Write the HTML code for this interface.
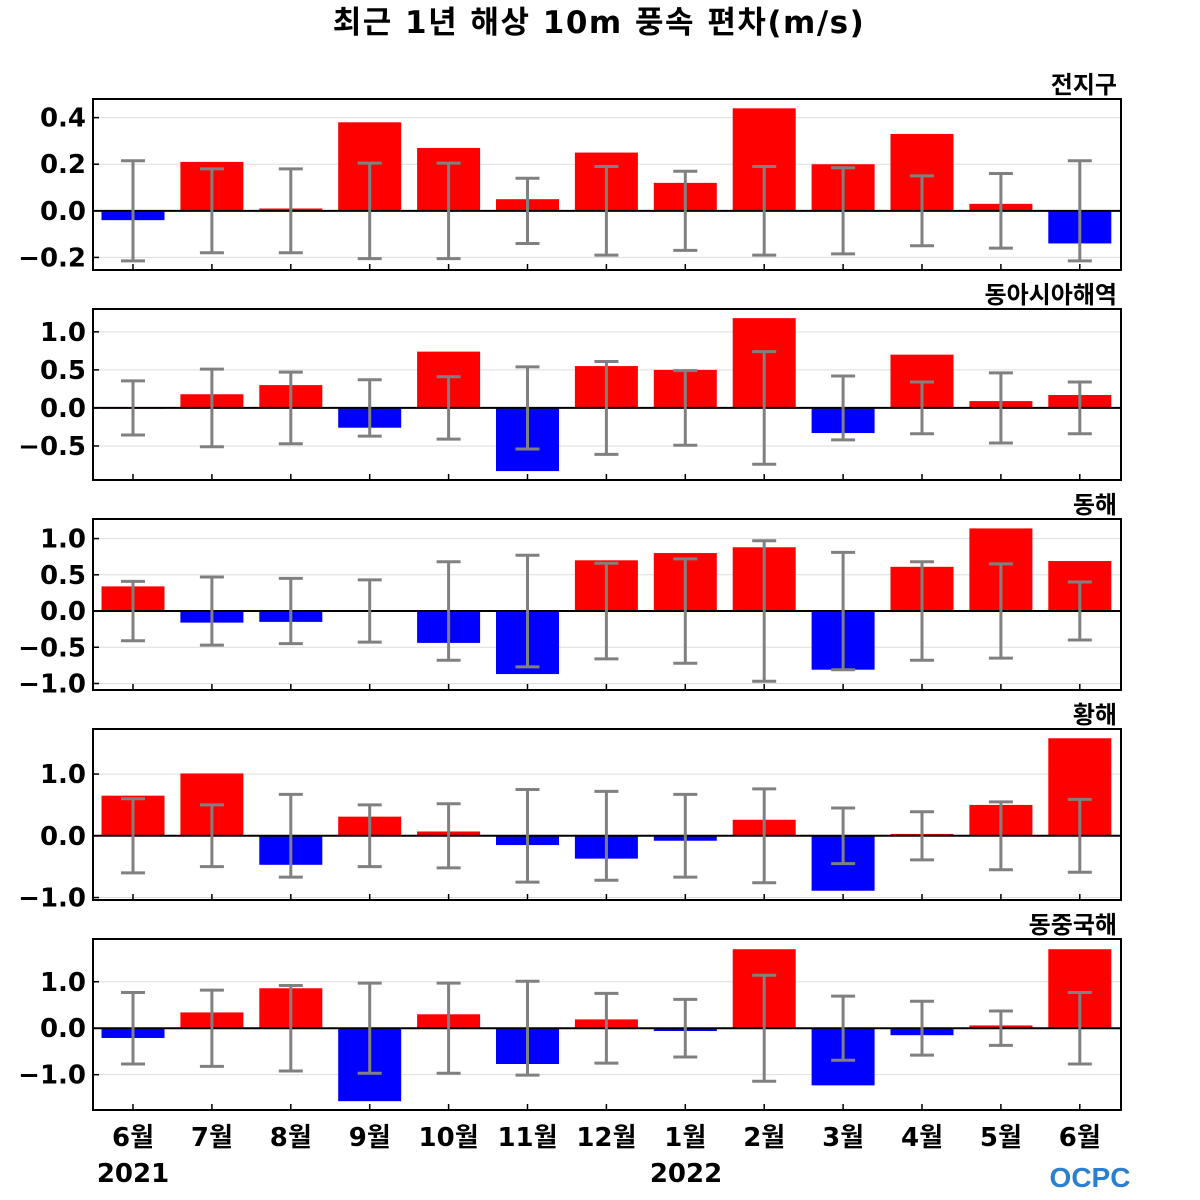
<!DOCTYPE html>
<html><head><meta charset="utf-8">
<style>
html,body{margin:0;padding:0;background:#fff;}
svg{display:block;}
text{font-family:"DejaVu Sans","Liberation Sans","Noto Sans CJK KR",sans-serif;font-weight:bold;fill:#000;}
</style></head>
<body>
<svg id="chart" width="1200" height="1200" viewBox="0 0 1200 1200">
<text x="599" y="33" font-size="31" text-anchor="middle" letter-spacing="1.5">최근 1년 해상 10m 풍속 편차(m/s)</text>
<g id="panels"></g>
<text x="1090" y="1187" font-size="28" text-anchor="middle" style="fill:#2a7fd0;font-family:'Liberation Sans',sans-serif">OCPC</text>
</svg>
<script>
const months = ["6월","7월","8월","9월","10월","11월","12월","1월","2월","3월","4월","5월","6월"];
const regions = ["전지구","동아시아해역","동해","황해","동중국해"];
const globalVals = [-0.04,0.21,0.01,0.38,0.27,0.05,0.25,0.12,0.44,0.20,0.33,0.03,-0.14];
const globalErr = [0.215,0.18,0.18,0.205,0.205,0.14,0.19,0.17,0.19,0.185,0.15,0.16,0.215];
const eastAsiaVals = [0.0,0.18,0.30,-0.26,0.74,-0.83,0.55,0.50,1.18,-0.33,0.70,0.09,0.17];
const eastAsiaErr = [0.355,0.51,0.47,0.37,0.41,0.54,0.61,0.49,0.74,0.42,0.34,0.46,0.34];
const eastSeaVals = [0.34,-0.16,-0.15,0.0,-0.44,-0.87,0.70,0.80,0.88,-0.81,0.61,1.14,0.69];
const eastSeaErr = [0.41,0.47,0.45,0.43,0.68,0.77,0.66,0.72,0.97,0.81,0.68,0.65,0.40];
const yellowSeaVals = [0.65,1.01,-0.47,0.31,0.07,-0.15,-0.37,-0.08,0.26,-0.89,0.03,0.50,1.58];
const yellowSeaErr = [0.60,0.50,0.67,0.50,0.52,0.75,0.72,0.67,0.76,0.45,0.39,0.55,0.59];
const ecsVals = [-0.21,0.34,0.86,-1.57,0.30,-0.77,0.19,-0.06,1.70,-1.23,-0.15,0.06,1.70];
const ecsErr = [0.77,0.82,0.92,0.97,0.97,1.01,0.75,0.62,1.14,0.69,0.58,0.37,0.77];
const tickVals1 = [-0.2,0.0,0.2,0.4];
const tickLabels1 = ["−0.2","0.0","0.2","0.4"];
const tickVals2 = [-0.5,0.0,0.5,1.0];
const tickLabels2 = ["−0.5","0.0","0.5","1.0"];
const tickVals3 = [-1.0,-0.5,0.0,0.5,1.0];
const tickLabels3 = ["−1.0","−0.5","0.0","0.5","1.0"];
const tickVals4 = [-1.0,0.0,1.0];
const tickLabels4 = ["−1.0","0.0","1.0"];
const tickVals5 = [-1.0,0.0,1.0];
const tickLabels5 = ["−1.0","0.0","1.0"];

const NS="http://www.w3.org/2000/svg";
const g=document.getElementById('panels');
function mk(tag,attrs,parent){const e=document.createElementNS(NS,tag);for(const k in attrs)e.setAttribute(k,attrs[k]);(parent||g).appendChild(e);return e;}
const X0=93,X1=1121;
const xc=i=>133+i*78.9;
const panels=[
 {top:99,ymin:-0.254,ymax:0.48,vals:globalVals,err:globalErr,tv:tickVals1,tl:tickLabels1},
 {top:309,ymin:-0.947,ymax:1.30,vals:eastAsiaVals,err:eastAsiaErr,tv:tickVals2,tl:tickLabels2},
 {top:519,ymin:-1.09,ymax:1.27,vals:eastSeaVals,err:eastSeaErr,tv:tickVals3,tl:tickLabels3},
 {top:729,ymin:-1.04,ymax:1.73,vals:yellowSeaVals,err:yellowSeaErr,tv:tickVals4,tl:tickLabels4},
 {top:939,ymin:-1.76,ymax:1.92,vals:ecsVals,err:ecsErr,tv:tickVals5,tl:tickLabels5}
];
const H=171;
panels.forEach((p,pi)=>{
 const y=v=>p.top+(p.ymax-v)/(p.ymax-p.ymin)*H;
 const pg=mk('g',{});
 
 
 const t=mk('text',{x:1117,y:p.top-6,'font-size':24,'text-anchor':'end'},pg);
 t.textContent=regions[pi];
 
 
 p.tv.forEach((v,k)=>{
  const gl=mk('line',{x1:X0,x2:X1,y1:y(v),y2:y(v),stroke:'#ddd','stroke-width':1},pg);
  
  
  mk('line',{x1:X0,x2:X0+6,y1:y(v),y2:y(v),stroke:'#000','stroke-width':1.5},pg);
  const tl=mk('text',{x:86,y:y(v)+9,'font-size':26,'text-anchor':'end'},pg);
  tl.textContent=p.tl[k];
  
  
 });
 p.vals.forEach((v,i)=>{
  const y0=y(0),yv=y(v);
  const b=mk('rect',{x:xc(i)-31.5,y:Math.min(y0,yv),width:63,height:Math.max(Math.abs(yv-y0),0.8),fill:v>=0?'#ff0000':'#0000ff'},pg);
  
  
 });
 mk('line',{x1:X0,x2:X1,y1:y(0),y2:y(0),stroke:'#000','stroke-width':2},pg);
 p.err.forEach((e,i)=>{
  const eg=mk('g',{stroke:'#808080','stroke-width':3},pg);
  
  
  mk('line',{x1:xc(i),x2:xc(i),y1:y(e),y2:y(-e)},eg);
  mk('line',{x1:xc(i)-12,x2:xc(i)+12,y1:y(e),y2:y(e)},eg);
  mk('line',{x1:xc(i)-12,x2:xc(i)+12,y1:y(-e),y2:y(-e)},eg);
  mk('line',{x1:xc(i),x2:xc(i),y1:p.top+H-6,y2:p.top+H,stroke:'#000','stroke-width':1.5},pg);
 });
 const fr=mk('rect',{x:X0,y:p.top,width:X1-X0,height:H,fill:'none',stroke:'#000','stroke-width':2},pg);
 
 
});
months.forEach((m,i)=>{
 const t=mk('text',{x:xc(i),y:1146,'font-size':26,'text-anchor':'middle'});
 t.textContent=m;
 
 
});
const y1=mk('text',{x:133,y:1182,'font-size':26,'text-anchor':'middle'});
y1.textContent='2021';


const y2=mk('text',{x:686,y:1182,'font-size':26,'text-anchor':'middle'});
y2.textContent='2022';


</script>
</body></html>
